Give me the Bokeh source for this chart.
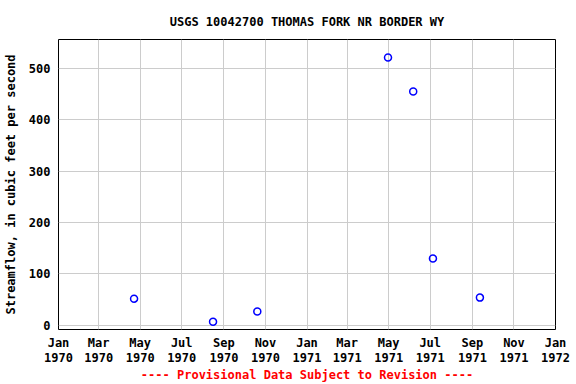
from datetime import datetime
from bokeh.plotting import figure
from bokeh.models import Range1d, FixedTicker, Title, ColumnDataSource
from bokeh.embed import file_html
from bokeh.resources import INLINE

# Data
dates = ["1970-04-22", "1970-08-16", "1970-10-20", "1971-04-30",
         "1971-06-06", "1971-07-05", "1971-09-12"]
flows = [52, 7, 27, 521, 455, 130, 54]

tick_dates = ["1970-01-01", "1970-03-01", "1970-05-01", "1970-07-01", "1970-09-01",
              "1970-11-01", "1971-01-01", "1971-03-01", "1971-05-01", "1971-07-01",
              "1971-09-01", "1971-11-01", "1972-01-01"]
tick_labels = ["Jan\n1970", "Mar\n1970", "May\n1970", "Jul\n1970", "Sep\n1970",
               "Nov\n1970", "Jan\n1971", "Mar\n1971", "May\n1971", "Jul\n1971",
               "Sep\n1971", "Nov\n1971", "Jan\n1972"]
y_ticks = [0, 100, 200, 300, 400, 500]

FONT = "DejaVu Sans Mono"

def ms(s):
    return datetime.strptime(s, "%Y-%m-%d").timestamp() * 1000.0

xs = [datetime.strptime(d, "%Y-%m-%d") for d in dates]
src = ColumnDataSource(dict(x=xs, y=flows))

p = figure(width=576, height=384, x_axis_type="datetime",
           output_backend="svg", toolbar_location=None,
           x_range=Range1d(ms(tick_dates[0]), ms(tick_dates[-1])),
           y_range=Range1d(-8, 556),
           min_border_left=58, min_border_right=21, min_border_top=39,
           min_border_bottom=55)

p.title.text = "USGS 10042700 THOMAS FORK NR BORDER WY"
p.title.align = "center"
p.title.text_font = FONT
p.title.text_font_size = "12px"
p.title.text_font_style = "bold"
p.title.text_color = "black"
p.title.standoff = 22

p.scatter("x", "y", source=src, marker="circle", size=7,
          line_color="#0000ff", fill_color=None, line_width=1.5)

tvals = [ms(d) for d in tick_dates]
p.xaxis.ticker = FixedTicker(ticks=tvals)
p.xaxis.major_label_overrides = {t: l for t, l in zip(tvals, tick_labels)}
p.yaxis.ticker = FixedTicker(ticks=y_ticks)
p.yaxis.axis_label = "Streamflow, in cubic feet per second"

for ax in (p.xaxis, p.yaxis):
    ax.major_label_text_font = FONT
    ax.major_label_text_font_size = "12px"
    ax.major_label_text_font_style = "bold"
    ax.major_label_text_color = "black"
    ax.axis_label_text_font = FONT
    ax.axis_label_text_font_size = "12px"
    ax.axis_label_text_font_style = "bold"
    ax.axis_label_text_color = "black"
    ax.major_tick_in = 0
    ax.major_tick_out = 0
    ax.minor_tick_in = 0
    ax.minor_tick_out = 0
    ax.axis_line_color = None
p.xaxis.major_label_standoff = 6
p.xaxis.major_label_text_line_height = 1.1
p.yaxis.major_label_standoff = 8
p.yaxis.axis_label_standoff = 8

p.xgrid.grid_line_color = "#cccccc"
p.ygrid.grid_line_color = "#cccccc"
p.outline_line_color = "black"
p.outline_line_width = 1
p.outline_line_alpha = 1

foot = Title(text="---- Provisional Data Subject to Revision ----", align="center",
             text_color="red", text_font=FONT, text_font_size="12px",
             text_font_style="bold", standoff=-3)
p.add_layout(foot, "below")

open("out.html", "w").write(file_html(p, INLINE))
